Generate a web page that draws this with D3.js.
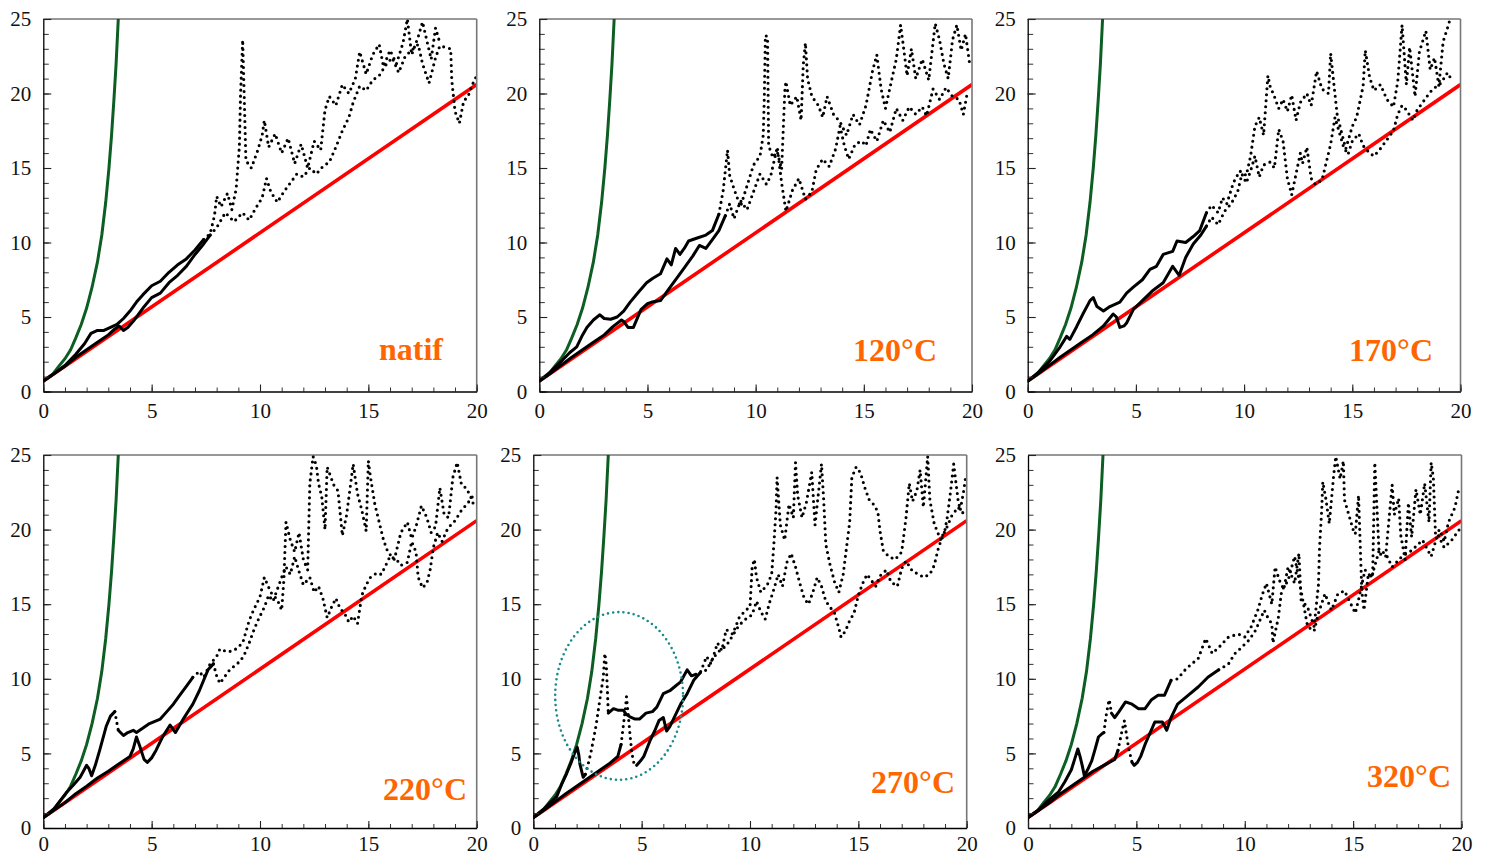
<!DOCTYPE html>
<html><head><meta charset="utf-8">
<script src="https://cdn.jsdelivr.net/npm/d3@7"></script>
<style>body{margin:0;background:#fff}svg{display:block}</style>
</head><body><svg id="c" width="1487" height="857"></svg>
<script>
// ---------- data ----------
const xTicks = [0, 5, 10, 15, 20];
const yTicks = [0, 5, 10, 15, 20, 25];
const panelLabels = ["natif", "120°C", "170°C", "220°C", "270°C", "320°C"];

const greenCurve = [[0,0.7],[0.4,1.1],[0.72,1.7],[1.0,2.2],[1.26,2.8],[1.5,3.6],[1.75,4.5],[2.0,5.6],[2.25,7.0],[2.5,8.7],[2.7,10.5],[2.88,12.7],[3.03,15],[3.15,17.2],[3.26,19.6],[3.36,22],[3.46,25]];
const redLine = [[0,0.7],[20,20.6]];

const p1A = [[0,0.7],[0.5,1.2],[1,1.75],[1.5,2.5],[1.9,3.2],[2.2,3.9],[2.5,4.1],[2.8,4.1],[3.1,4.3],[3.4,4.5],[3.7,4.9],[4.0,5.4],[4.3,6.0],[4.6,6.5],[5.0,7.1],[5.4,7.4],[5.8,8.0],[6.2,8.5],[6.6,8.9],[7.0,9.5],[7.4,10.2],
[7.7,10.6],[7.9,11.8],[8.0,13.1],[8.2,12.4],[8.5,13.3],[8.7,12.2],[8.9,13.6],[9.05,16.5],[9.1,19.8],[9.2,23.6],[9.25,21],[9.35,15.5],[9.6,15.0],[9.9,16.2],[10.1,17.2],[10.2,18.2],[10.4,16.4],[10.7,17.3],[11.0,16.0],[11.3,17.0],[11.6,15.3],[11.9,16.6],[12.2,15.0],[12.5,16.8],[12.8,16.2],[13.0,18.9],[13.2,19.8],[13.5,19.2],[13.8,20.6],[14.1,20.0],[14.4,21.0],[14.6,22.8],[14.9,21.3],[15.2,22.6],[15.5,23.3],[15.7,21.8],[16.0,22.9],[16.3,22.0],[16.6,23.4],[16.8,25],[17.0,22.6],[17.3,23.8],[17.5,24.8],[17.9,22.3],[18.1,24.4],[18.3,23.4]];
const p1B = [[0,0.7],[0.5,1.2],[1,1.7],[1.5,2.3],[2,2.8],[2.5,3.3],[3,3.8],[3.3,4.2],[3.5,4.4],[3.7,4.1],[3.9,4.3],[4.2,4.8],[4.6,5.6],[5.0,6.3],[5.4,6.6],[5.8,7.3],[6.2,7.8],[6.6,8.4],[7.0,9.2],[7.4,9.9],[7.7,10.5],
[8.0,11.0],[8.4,12.0],[8.8,11.4],[9.2,12.0],[9.5,11.5],[9.8,12.3],[10.1,13.0],[10.3,14.3],[10.5,13.4],[10.8,12.7],[11.1,13.4],[11.4,14.0],[11.7,14.6],[12.0,14.4],[12.3,15.0],[12.6,14.6],[12.9,15.1],[13.2,15.4],[13.5,16.4],[13.8,17.5],[14.1,18.4],[14.3,19.4],[14.6,20.5],[14.9,20.2],[15.2,20.9],[15.5,21.2],[15.8,21.9],[16.1,22.4],[16.4,21.4],[16.7,22.5],[17.0,22.9],[17.3,23.3],[17.5,22.0],[17.8,20.7],[18.1,22.4],[18.3,23.2],[18.8,23.0],[18.85,20.9],[19.0,18.8],[19.2,18.0],[19.4,19.5],[19.6,19.8],[19.8,20.6],[20,21.2]];

const p2A = [[0,0.7],[0.5,1.3],[1.0,2.0],[1.4,2.6],[1.73,3.0],[2.0,3.8],[2.2,4.3],[2.5,4.8],[2.8,5.15],[3.0,4.9],[3.3,4.85],[3.6,5.0],[3.9,5.4],[4.2,6.0],[4.6,6.7],[4.96,7.3],[5.25,7.6],[5.6,7.9],[5.9,8.9],[6.1,8.5],[6.3,9.6],[6.5,9.2],[6.7,9.6],[6.9,10.1],[7.3,10.3],[7.7,10.5],[8.0,10.8],[8.3,11.9],
[8.5,13.5],[8.7,16.2],[8.8,14.5],[9.0,13.6],[9.3,12.4],[9.6,13.8],[9.9,15.2],[10.2,15.8],[10.35,17.2],[10.4,19.7],[10.45,23.9],[10.55,23.8],[10.6,16.5],[10.8,15.7],[11.0,16.1],[11.2,14.9],[11.35,20.2],[11.4,20.8],[11.6,19.2],[11.9,19.8],[12.1,18.2],[12.2,21.9],[12.3,23.4],[12.4,21.0],[12.6,19.8],[12.9,19.2],[13.1,18.4],[13.3,19.8],[13.6,18.6],[13.9,18.1],[14.2,17.2],[14.5,18.6],[14.8,17.9],[15.1,19.2],[15.4,21.5],[15.6,22.6],[15.8,20.3],[16.0,19.0],[16.3,21.0],[16.5,22.3],[16.7,24.6],[16.8,23.5],[17.0,21.2],[17.2,23.0],[17.4,21.0],[17.7,22.3],[18.0,20.9],[18.3,24.7],[18.5,23.6],[18.7,22.0],[18.9,21.0],[19.1,23.6],[19.3,24.6],[19.5,22.9],[19.7,24.0],[19.9,21.9]];
const p2B = [[0,0.7],[0.5,1.2],[1,1.75],[1.5,2.3],[2,2.8],[2.5,3.3],[3,3.8],[3.4,4.35],[3.8,4.8],[3.9,4.7],[4.1,4.3],[4.35,4.3],[4.7,5.5],[5.0,5.9],[5.2,6.0],[5.6,6.1],[6.05,7.0],[6.5,7.9],[6.8,8.5],[7.1,9.1],[7.4,9.8],[7.7,9.6],[8.0,10.2],[8.3,10.8],[8.6,11.8],
[8.8,12.6],[9.0,11.6],[9.3,12.8],[9.6,12.2],[9.9,13.4],[10.2,14.6],[10.5,13.9],[10.7,14.5],[11.0,16.4],[11.2,14.0],[11.4,12.1],[11.7,13.5],[12.0,14.3],[12.3,12.9],[12.6,13.4],[12.8,14.9],[13.1,15.6],[13.4,15.1],[13.7,16.3],[13.9,17.8],[14.1,16.5],[14.3,15.6],[14.6,16.6],[14.9,16.8],[15.1,16.5],[15.3,17.6],[15.6,16.8],[15.9,18.2],[16.2,17.4],[16.5,19.0],[16.8,18.2],[17.1,19.1],[17.4,18.6],[17.7,19.1],[17.9,18.5],[18.2,20.3],[18.5,19.6],[18.8,20.4],[19.1,19.8],[19.4,19.6],[19.6,18.6],[19.8,20.2]];

const p3A = [[0,0.7],[0.5,1.3],[1.0,2.0],[1.5,3.0],[1.8,3.7],[1.95,3.5],[2.26,4.35],[2.57,5.25],[2.88,6.1],[3.03,6.3],[3.2,5.7],[3.5,5.4],[3.8,5.7],[4.26,6.0],[4.57,6.6],[4.88,7.0],[5.3,7.5],[5.65,8.2],[5.95,8.4],[6.26,9.2],[6.7,9.4],[6.9,10.1],[7.3,10.0],[7.65,10.4],[7.95,10.8],[8.26,12.0],
[8.5,12.5],[8.8,12.0],[9.0,13.0],[9.2,12.6],[9.5,14.0],[9.8,14.8],[10.1,14.5],[10.3,15.8],[10.5,17.8],[10.7,18.4],[10.9,17.2],[11.1,21.2],[11.2,20.5],[11.4,19.8],[11.6,19.0],[11.8,19.6],[12.0,18.8],[12.2,19.9],[12.4,18.2],[12.6,19.4],[12.9,20.0],[13.1,19.2],[13.35,21.5],[13.6,20.3],[13.9,20.0],[14.0,22.7],[14.1,21.3],[14.3,18.6],[14.5,17.4],[14.7,16.3],[15.0,17.8],[15.2,18.4],[15.5,20.5],[15.6,22.9],[15.8,21.1],[16.0,20.2],[16.3,20.6],[16.6,19.6],[16.9,19.1],[17.1,20.8],[17.3,24.6],[17.5,20.6],[17.65,23.1],[17.9,19.8],[18.1,22.8],[18.4,24.2],[18.6,21.6],[18.8,22.4],[19.0,20.5],[19.2,23.5],[19.4,24.4],[19.5,24.9]];
const p3B = [[0,0.7],[0.5,1.2],[1,1.75],[1.5,2.3],[2,2.8],[2.5,3.3],[3,3.8],[3.5,4.4],[3.95,5.2],[4.1,5.0],[4.26,4.3],[4.45,4.4],[4.57,4.6],[4.88,5.5],[5.3,6.1],[5.8,6.8],[6.26,7.3],[6.7,8.4],[7.0,7.8],[7.3,9.0],[7.65,9.9],[8.0,10.5],[8.26,11.1],
[8.5,11.7],[8.8,11.2],[9.1,12.1],[9.4,12.6],[9.7,13.4],[9.9,14.6],[10.1,14.0],[10.3,14.8],[10.5,15.8],[10.7,14.4],[10.9,15.2],[11.2,15.4],[11.4,15.0],[11.6,17.6],[11.8,16.8],[12.0,14.3],[12.2,13.2],[12.4,14.6],[12.6,16.0],[12.7,15.3],[12.9,16.4],[13.1,14.3],[13.3,13.9],[13.6,14.2],[13.8,15.4],[14.0,16.6],[14.2,18.4],[14.4,17.4],[14.6,16.4],[14.8,15.9],[15.0,16.8],[15.3,17.3],[15.5,16.5],[15.8,16.0],[16.0,15.8],[16.3,16.3],[16.6,16.9],[16.9,17.5],[17.1,18.6],[17.3,19.2],[17.5,18.9],[17.8,18.2],[18.0,18.9],[18.3,19.5],[18.6,20.1],[18.9,20.5],[19.1,20.7],[19.4,21.4],[19.6,20.9]];

const p4A = [[0,0.7],[0.5,1.3],[1.08,2.4],[1.4,2.9],[1.7,3.4],[2.0,4.2],[2.1,4.0],[2.23,3.5],[2.4,4.2],[2.6,5.2],[2.9,6.8],[3.1,7.5],[3.3,7.8],[3.46,6.55],[3.7,6.2],[3.9,6.4],[4.15,6.55],[4.3,6.4],[4.6,6.7],[4.9,7.0],[5.4,7.3],[5.7,7.8],[6.0,8.3],[6.3,8.9],[6.6,9.5],[6.9,10.1],[7.2,10.5],[7.4,10.1],[7.7,11.0],[8.0,11.5],[8.15,12.0],[8.5,11.8],[8.8,11.9],[9.2,12.4],[9.5,13.9],
[9.7,14.6],[10.0,15.5],[10.2,16.8],[10.5,15.8],[10.8,15.3],[11.0,14.6],[11.1,16.6],[11.2,20.5],[11.4,19.3],[11.6,18.5],[11.8,19.8],[12.0,18.0],[12.2,17.3],[12.3,23.1],[12.45,24.9],[12.6,24.3],[12.7,23.1],[12.85,22.2],[13.0,20.0],[13.1,24.2],[13.4,23.0],[13.6,22.6],[13.8,19.6],[14.0,21.0],[14.3,24.4],[14.5,22.4],[14.7,21.3],[14.9,19.9],[15.0,24.6],[15.1,23.5],[15.3,21.7],[15.5,20.5],[15.7,19.3],[15.9,18.5],[16.2,18.0],[16.5,19.8],[16.8,20.5],[17.0,19.4],[17.2,20.2],[17.45,21.6],[17.7,20.8],[17.9,19.8],[18.1,20.2],[18.3,22.8],[18.5,21.0],[18.7,20.8],[18.9,23.5],[19.1,24.5],[19.3,23.0],[19.5,22.8],[19.7,22.3],[19.9,21.5]];
const p4B = [[0,0.7],[0.5,1.2],[1,1.7],[1.5,2.3],[2,2.8],[2.5,3.35],[3,3.8],[3.5,4.3],[4.0,4.8],[4.15,5.3],[4.3,6.1],[4.45,5.5],[4.65,4.6],[4.8,4.4],[5.0,4.7],[5.2,5.2],[5.5,6.1],[5.85,6.9],[6.1,6.4],[6.5,7.4],[6.9,8.3],[7.2,9.2],[7.4,9.9],[7.6,10.6],[7.85,11.0],[8.0,10.2],[8.15,9.7],[8.4,10.2],[8.6,10.6],[9.1,11.2],[9.3,11.7],[9.5,12.4],
[9.7,13.2],[9.9,13.9],[10.2,14.8],[10.4,15.6],[10.6,15.2],[10.8,16.0],[11.0,16.8],[11.2,17.5],[11.4,17.0],[11.6,18.2],[11.8,17.2],[12.0,16.3],[12.3,16.8],[12.5,15.8],[12.7,16.2],[12.9,15.4],[13.1,14.1],[13.3,14.8],[13.5,15.4],[13.7,14.7],[13.9,14.4],[14.1,13.8],[14.3,14.2],[14.5,13.7],[14.7,15.6],[14.9,16.3],[15.1,16.8],[15.4,17.1],[15.6,17.0],[15.8,17.6],[16.0,18.2],[16.3,18.0],[16.5,17.6],[16.8,17.8],[17.0,19.2],[17.2,18.5],[17.3,16.8],[17.5,16.1],[17.7,16.4],[17.85,17.3],[18.0,18.8],[18.2,19.8],[18.4,19.2],[18.6,19.9],[18.8,20.3],[19.0,20.6],[19.3,21.3],[19.6,21.8],[19.9,22.4]];

const p5A = [[0,0.7],[0.5,1.3],[1.08,2.1],[1.3,2.9],[1.54,3.65],[1.75,4.4],[1.9,5.0],[2.03,5.4],[2.1,4.9],[2.15,4.3],[2.3,3.4],[2.4,3.6],[2.5,4.1],[2.65,5.0],[2.77,5.9],[2.9,6.9],[3.0,7.9],[3.1,8.9],[3.23,10.1],[3.3,11.7],[3.35,11.2],[3.38,10.6],[3.42,9.2],[3.46,7.7],[3.7,8.0],[3.9,7.9],[4.15,7.9],[4.3,7.6],[4.46,7.45],[4.7,7.3],[4.9,7.3],[5.2,7.7],[5.5,7.8],[5.7,8.1],[6.0,9.0],[6.3,9.2],[6.55,9.5],[6.8,9.8],[7.1,10.6],[7.3,10.2],[7.5,10.3],
[7.7,10.4],[8.0,11.5],[8.2,11.0],[8.5,12.4],[8.7,11.9],[8.9,13.3],[9.2,13.0],[9.5,14.1],[9.8,14.6],[10.0,14.8],[10.1,17.5],[10.2,18.0],[10.3,16.8],[10.5,15.8],[10.8,16.3],[11.0,17.0],[11.1,19.0],[11.2,21.3],[11.25,23.5],[11.4,20.3],[11.6,19.3],[11.8,21.7],[12.0,20.8],[12.1,24.5],[12.2,22.3],[12.4,20.8],[12.6,21.8],[12.85,23.85],[13.0,20.3],[13.3,24.4],[13.4,22.0],[13.5,19.0],[13.7,17.6],[13.9,16.5],[14.1,15.8],[14.3,17.0],[14.6,20.5],[14.7,23.5],[14.9,24.2],[15.1,23.8],[15.3,22.8],[15.5,22.0],[15.7,21.7],[15.9,21.2],[16.0,19.9],[16.15,18.6],[16.4,18.2],[16.7,18.0],[17.0,18.5],[17.2,20.8],[17.35,23.1],[17.5,21.9],[17.7,22.6],[17.85,24.0],[18.0,21.5],[18.2,24.9],[18.3,22.0],[18.5,20.4],[18.8,19.3],[19.0,20.0],[19.1,20.8],[19.25,22.5],[19.4,24.4],[19.5,23.2],[19.6,22.0],[19.7,21.3],[19.85,22.5],[19.95,23.5]];
const p5B = [[0,0.7],[0.5,1.2],[1,1.75],[1.5,2.3],[2,2.8],[2.5,3.3],[3,3.8],[3.5,4.3],[3.9,4.8],[4.05,5.6],[4.15,6.8],[4.25,8.0],[4.3,8.8],[4.38,7.6],[4.46,6.3],[4.55,5.0],[4.65,4.3],[4.77,4.2],[4.95,4.5],[5.1,4.8],[5.4,5.9],[5.6,6.5],[5.8,7.2],[6.0,7.4],[6.15,6.5],[6.3,6.8],[6.5,7.4],[6.8,8.3],[7.1,9.0],[7.4,9.9],[7.7,10.4],
[8.0,10.6],[8.3,11.4],[8.6,11.9],[8.9,12.2],[9.2,12.9],[9.5,13.6],[9.8,14.0],[10.1,14.3],[10.3,15.2],[10.5,14.5],[10.7,14.0],[10.9,15.1],[11.1,16.0],[11.3,17.0],[11.5,16.2],[11.7,17.8],[11.9,18.4],[12.1,17.5],[12.3,16.4],[12.5,15.4],[12.7,15.0],[12.9,15.8],[13.1,16.8],[13.3,16.2],[13.5,15.2],[13.7,14.8],[13.9,14.4],[14.1,13.4],[14.2,12.8],[14.4,13.2],[14.6,13.9],[14.8,14.4],[15.0,15.6],[15.2,16.4],[15.4,17.0],[15.6,16.6],[15.8,16.2],[16.0,16.9],[16.3,17.3],[16.5,16.5],[16.8,16.2],[17.0,17.4],[17.2,17.9],[17.5,17.2],[17.8,17.0],[18.0,16.8],[18.3,17.0],[18.5,17.6],[18.7,18.8],[18.9,19.6],[19.1,20.2],[19.3,20.9],[19.6,21.5],[19.9,21.0]];

const p6A = [[0,0.7],[0.5,1.2],[0.9,1.8],[1.4,2.4],[1.7,3.1],[2.0,3.9],[2.15,4.6],[2.3,5.3],[2.4,4.8],[2.5,4.2],[2.6,3.5],[2.75,3.9],[2.94,4.5],[3.1,5.3],[3.25,6.1],[3.4,6.3],[3.5,6.4],[3.6,7.5],[3.7,8.3],[3.75,8.6],[3.85,7.7],[4.0,7.4],[4.2,7.8],[4.5,8.45],[4.8,8.3],[5.1,8.0],[5.4,8.0],[5.7,8.6],[6.0,8.9],[6.3,8.9],[6.6,9.9],[6.9,10.0],[7.25,10.6],[7.55,11.0],[7.85,11.35],[8.2,12.7],[8.5,11.7],[8.8,12.1],[9.25,12.8],[9.7,13.0],[10.0,12.8],[10.3,13.5],[10.6,14.6],[10.8,15.6],[11.0,16.4],[11.25,15.0],[11.4,17.5],[11.6,16.6],[11.8,16.0],[12.0,17.5],[12.3,16.4],[12.5,18.4],[12.6,15.3],[12.9,14.8],[13.2,13.5],[13.4,16.3],[13.45,18.8],[13.55,21.3],[13.6,23.2],[13.75,22.0],[13.9,20.4],[14.1,23.6],[14.2,24.9],[14.4,23.4],[14.55,24.6],[14.6,22.0],[14.8,21.0],[15.0,20.0],[15.1,19.7],[15.25,22.3],[15.4,15.9],[15.5,14.6],[15.7,17.0],[15.9,16.8],[16.0,24.5],[16.2,18.4],[16.5,18.2],[16.8,23.0],[16.9,21.0],[17.1,22.1],[17.2,19.6],[17.4,18.0],[17.55,21.8],[17.7,19.5],[17.9,22.7],[18.1,21.0],[18.3,23.1],[18.5,20.5],[18.6,24.5],[18.7,23.5],[18.8,19.7],[19.0,20.0],[19.2,19.2],[19.4,20.5],[19.7,21.5],[19.9,22.9]];
const p6B = [[0,0.7],[0.5,1.2],[1,1.7],[1.5,2.3],[2,2.8],[2.5,3.3],[3,3.8],[3.5,4.2],[4.0,4.6],[4.15,5.2],[4.25,5.9],[4.35,6.6],[4.45,7.2],[4.55,6.2],[4.65,5.3],[4.8,4.4],[4.9,4.2],[5.05,4.4],[5.2,4.8],[5.4,5.6],[5.55,6.1],[5.85,7.1],[6.2,7.1],[6.4,6.55],[6.6,7.4],[6.9,8.3],[7.4,8.9],[7.85,9.45],[8.3,10.1],[8.8,10.6],[9.25,11.0],[9.55,11.7],[9.85,12.1],[10.2,12.6],[10.5,13.25],[10.9,14.6],[11.1,14.0],[11.25,13.7],[11.3,12.4],[11.55,14.1],[11.7,15.9],[12.0,16.6],[12.3,18.2],[12.6,15.9],[12.9,13.5],[13.2,13.2],[13.4,14.4],[13.7,15.7],[14.0,14.6],[14.3,15.7],[14.6,15.9],[14.9,15.0],[15.1,14.4],[15.25,15.3],[15.55,17.3],[15.85,16.8],[16.2,18.6],[16.5,18.4],[16.8,17.5],[17.25,18.2],[17.7,18.6],[18.2,19.3],[18.6,18.2],[18.9,19.7],[19.2,18.8],[19.55,19.3],[19.9,20.0]];

// dotted (sparse) stretches of each run, by x range
const dottedA = [[[7.5,20]], [[8.3,20]], [[8.2,20]], [[3.3,3.5],[6.8,20]], [[2.45,3.5],[7.6,20]], [[3.5,3.9],[6.5,20]]];
const dottedB = [[[7.7,20]], [[8.6,20]], [[8.3,20]], [[7.8,20]], [[4.0,4.8],[7.6,20]], [[4.1,4.75],[9.0,20]]];
const seriesA = [p1A, p2A, p3A, p4A, p5A, p6A];
const seriesB = [p1B, p2B, p3B, p4B, p5B, p6B];
const ellipse5 = [3.96, 8.85, 2.95, 5.62]; // cx, cy, rx, ry in data units (panel 270°C)

// ---------- layout ----------
const layout = [
  {x:[43.3,476.7], y:[391.5,19], lab:[443,360], pad:11.5},
  {x:[539.3,972], y:[391.5,19], lab:[937,361], pad:11.5},
  {x:[1027.7,1460.5], y:[391.5,19], lab:[1433,361], pad:11.5},
  {x:[43.3,476.7], y:[828,455], lab:[467,800], pad:8.5},
  {x:[533.3,966.7], y:[828,455], lab:[955,793], pad:8.5},
  {x:[1028,1461.5], y:[828,455], lab:[1451,787], pad:8.5}
];
const SERIF = "'Liberation Serif','Times New Roman',Times,serif";

const svg = d3.select("#c");
svg.append("rect").attr("width",1487).attr("height",857).attr("fill","#fff");

function runs(data, ranges){
  const out=[]; let cur=null;
  for(let i=0;i<data.length-1;i++){
    const a=data[i], b=data[i+1], mx=(a[0]+b[0])/2;
    const dot=ranges.some(r=>mx>=r[0]&&mx<=r[1]);
    if(!cur||cur.dotted!==dot){cur={dotted:dot,pts:[a]};out.push(cur);}
    cur.pts.push(b);
  }
  return out;
}

layout.forEach((L,i)=>{
  const x=d3.scaleLinear().domain([0,20]).range(L.x);
  const y=d3.scaleLinear().domain([0,25]).range(L.y);
  const g=svg.append("g");
  const cid="clip"+i;
  svg.append("clipPath").attr("id",cid).append("rect")
    .attr("x",L.x[0]).attr("y",L.y[1]-1).attr("width",L.x[1]-L.x[0]).attr("height",L.y[0]-L.y[1]+1);
  const line=d3.line().x(d=>x(d[0])).y(d=>y(d[1]));
  const plot=g.append("g").attr("clip-path",`url(#${cid})`);

  plot.append("path").attr("d",line(redLine)).attr("fill","none").attr("stroke","#ff0000").attr("stroke-width",3.6);
  plot.append("path").attr("d",line(greenCurve)).attr("fill","none").attr("stroke","#0c5e22").attr("stroke-width",3);

  [[seriesA[i],dottedA[i]],[seriesB[i],dottedB[i]]].forEach(([data,ranges])=>{
    runs(data,ranges).forEach(r=>{
      const p=plot.append("path").attr("d",line(r.pts)).attr("fill","none").attr("stroke","#000")
        .attr("stroke-linejoin","round").attr("stroke-linecap","round");
      if(r.dotted) p.attr("stroke-width",3.1).attr("stroke-dasharray","0 6");
      else p.attr("stroke-width",3);
    });
  });

  if(i===4){
    g.append("ellipse").attr("cx",x(ellipse5[0])).attr("cy",y(ellipse5[1]))
      .attr("rx",x(ellipse5[2])-x(0)).attr("ry",y(0)-y(ellipse5[3]))
      .attr("fill","none").attr("stroke","#1a8a8a").attr("stroke-width",2.6)
      .attr("stroke-dasharray","0 5.2").attr("stroke-linecap","round");
  }

  // frame top/right
  g.append("line").attr("x1",L.x[0]).attr("x2",L.x[1]).attr("y1",L.y[1]).attr("y2",L.y[1]).attr("stroke","#333").attr("stroke-width",1.2);
  g.append("line").attr("x1",L.x[1]).attr("x2",L.x[1]).attr("y1",L.y[1]).attr("y2",L.y[0]).attr("stroke","#777").attr("stroke-width",1.6);

  // minor ticks
  const ax=g.append("g");
  ax.append("g").attr("transform",`translate(${L.x[0]},0)`)
    .call(d3.axisLeft(y).tickValues(d3.range(0,26)).tickSize(-5.5).tickSizeOuter(0).tickFormat(""))
    .call(s=>s.select(".domain").remove()).selectAll("line").attr("stroke","#333");
  ax.append("g").attr("transform",`translate(0,${L.y[0]})`)
    .call(d3.axisBottom(x).tickValues(d3.range(0,21)).tickSize(-4).tickSizeOuter(0).tickFormat(""))
    .call(s=>s.select(".domain").remove()).selectAll("line").attr("stroke","#333");
  // major ticks + labels
  const ya=ax.append("g").attr("transform",`translate(${L.x[0]},0)`)
    .call(d3.axisLeft(y).tickValues(yTicks).tickSize(-8).tickSizeOuter(0).tickPadding(12).tickFormat(d3.format("d")));
  const xa=ax.append("g").attr("transform",`translate(0,${L.y[0]})`)
    .call(d3.axisBottom(x).tickValues(xTicks).tickSize(-7).tickSizeOuter(0).tickPadding(L.pad).tickFormat(d3.format("d")));
  [ya,xa].forEach(a=>{
    a.attr("font-family",SERIF).attr("font-size",21);
    a.select(".domain").attr("stroke","#000").attr("stroke-width",1.3);
    a.selectAll(".tick line").attr("stroke","#222").attr("stroke-width",1.1);
    a.selectAll("text").style("font-family",SERIF).style("font-size","21px").attr("fill","#111");
  });

  g.append("text").attr("x",L.lab[0]).attr("y",L.lab[1]).attr("text-anchor","end")
    .style("font-family",SERIF).attr("font-weight","bold")
    .attr("font-size",32).attr("fill","#ff6600").text(panelLabels[i]);
});
</script>
</body></html>
